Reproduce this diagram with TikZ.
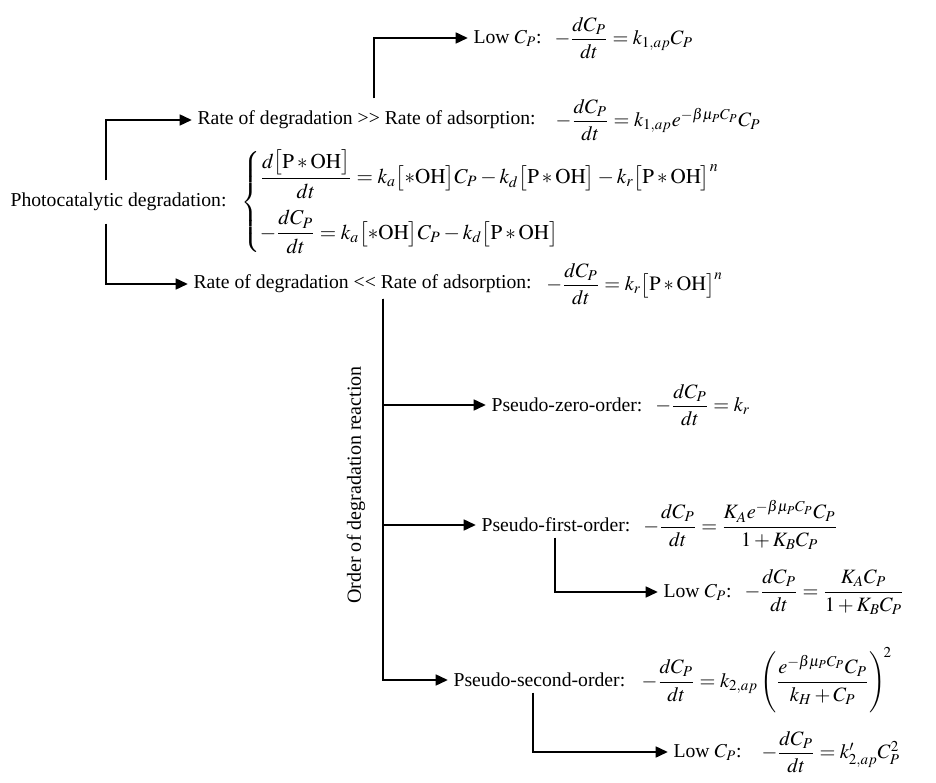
\documentclass[tikz,border=0pt]{standalone}
\usepackage{amsmath}
\usepackage{mathptmx}
\usepackage{fontspec}
\setmainfont{Liberation Serif}
\usetikzlibrary{positioning, arrows.meta}
\tikzset{flow/.style={line width=1.6pt, -{Triangle[length=7pt, width=6pt]}},
  lbl/.style={anchor=west, inner sep=3pt, font=\fontsize{11.2}{13}\selectfont},
  eqn/.style={inner sep=1pt, font=\fontsize{11.6}{13}\selectfont}}

\begin{document}
\begin{tikzpicture}[x=0.02cm, y=-0.02cm]
	\useasboundingbox (0,0) rectangle (936,783);
	% x positions of the vertical lines
	\coordinate (trunk) at (106,0);
	\coordinate (lowax) at (374,0);
	\coordinate (ordx) at (383,0);
	\coordinate (lowbx) at (555,0);
	\coordinate (lowcx) at (533,0);
	% photocatalytic degradation
	\node[lbl] (photo) at (5,202) {Photocatalytic degradation:};
	\node[eqn, right=4pt of photo, font=\fontsize{12}{14}\selectfont] (photoeq) {$\left\{\begin{array}{@{}l@{}}
		\dfrac{d\bigl[\mathrm{P*OH}\bigr]}{dt}=k_a\bigl[{*}\mathrm{OH}\bigr]C_P-k_d\bigl[\mathrm{P*OH}\bigr]-k_r\bigl[\mathrm{P*OH}\bigr]^n\\[11pt]
		-\dfrac{dC_P}{dt}=k_a\bigl[{*}\mathrm{OH}\bigr]C_P-k_d\bigl[\mathrm{P*OH}\bigr]
		\end{array}\right.$};
	\node[lbl] (fast) at (192,120) {Rate of degradation >\kern0pt> Rate of adsorption:};
	\node[eqn, right=7pt of fast] (fasteq) {$-\dfrac{dC_P}{dt}=k_{1,ap}e^{-\beta\mu_PC_P}C_P$};
	\node[lbl] (lowa) at (468,38) {Low $C_P$:};
	\node[eqn, right=3pt of lowa] (lowaeq) {$-\dfrac{dC_P}{dt}=k_{1,ap}C_P$};
	\node[lbl] (slow) at (188,284) {Rate of degradation <\kern0pt< Rate of adsorption:};
	\node[eqn, right=4pt of slow] (sloweq) {$-\dfrac{dC_P}{dt}=k_r\bigl[\mathrm{P*OH}\bigr]^n$};
	% order of degradation reaction
	\node[eqn, rotate=90, font=\fontsize{11.4}{13}\selectfont] (order) at (356,485) {Order of degradation reaction};
	\node[lbl] (zero) at (486,405) {Pseudo-zero-order:};
	\node[eqn, right=3pt of zero] (zeroeq) {$-\dfrac{dC_P}{dt}=k_r$};
	\node[lbl] (first) at (476,525) {Pseudo-first-order:};
	\node[eqn, right=3pt of first] (firsteq) {$-\dfrac{dC_P}{dt}=\dfrac{K_Ae^{-\beta\mu_PC_P}C_P}{1+K_BC_P}$};
	\node[lbl] (lowb) at (658,592) {Low $C_P$:};
	\node[eqn, right=3pt of lowb] (lowbeq) {$-\dfrac{dC_P}{dt}=\dfrac{K_AC_P}{1+K_BC_P}$};
	\node[lbl] (second) at (448,680) {Pseudo-second-order:};
	\node[eqn, right=5pt of second] (secondeq) {$-\dfrac{dC_P}{dt}=k_{2,ap}\left(\dfrac{e^{-\beta\mu_PC_P}C_P}{k_H+C_P}\right)^{\!2}$};
	\node[lbl] (lowc) at (668,752) {Low $C_P$:};
	\node[eqn, right=7pt of lowc] (lowceq) {$-\dfrac{dC_P}{dt}=k'_{2,ap}C_P^2$};
	% connectors
	\draw[flow] ([yshift=4pt]photo.north -| trunk) |- (fast.west);
	\draw[flow] ([yshift=-4pt]photo.south -| trunk) |- (slow.west);
	\draw[flow] ([yshift=4pt]fast.north -| lowax) |- (lowa.west);
	\draw[flow] (slow.south -| ordx) |- (zero.west);
	\draw[flow] (slow.south -| ordx) |- (first.west);
	\draw[flow] (slow.south -| ordx) |- (second.west);
	\draw[flow] (first.south -| lowbx) |- (lowb.west);
	\draw[flow] (second.south -| lowcx) |- (lowc.west);
\end{tikzpicture}
\end{document}
